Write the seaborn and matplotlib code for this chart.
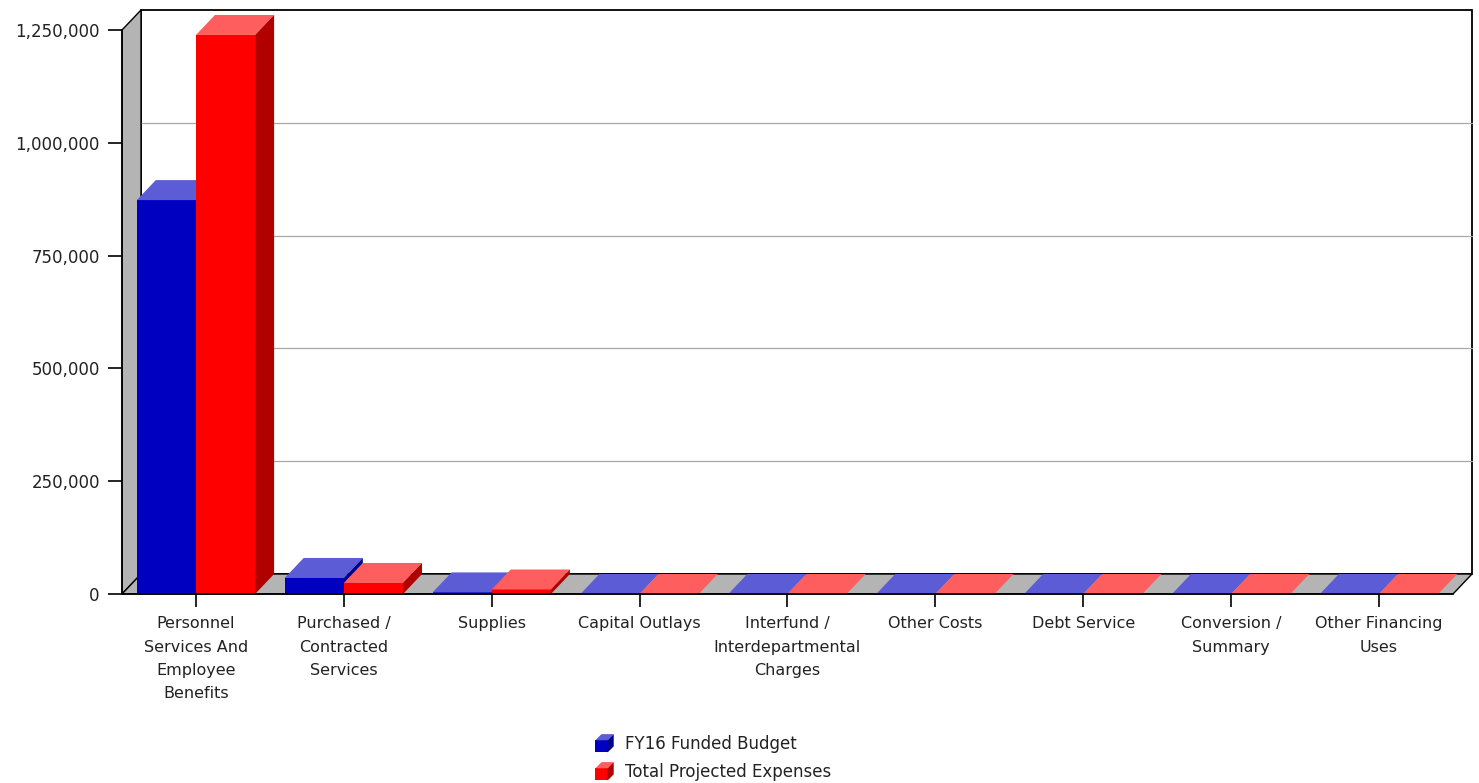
import numpy as np
import pandas as pd
import matplotlib
matplotlib.use("Agg")
import matplotlib.pyplot as plt
import seaborn as sns
from matplotlib.patches import Polygon, Rectangle
from matplotlib.legend_handler import HandlerBase
from matplotlib.ticker import FuncFormatter

# ---- data -------------------------------------------------------------
categories = [
    "Personnel\nServices And\nEmployee\nBenefits",
    "Purchased /\nContracted\nServices",
    "Supplies",
    "Capital Outlays",
    "Interfund /\nInterdepartmental\nCharges",
    "Other Costs",
    "Debt Service",
    "Conversion /\nSummary",
    "Other Financing\nUses",
]
series_names = ["FY16 Funded Budget", "Total Projected Expenses"]
fy16_budget = [873000, 35500, 3500, 0, 0, 0, 0, 0, 0]
projected_expenses = [1239000, 24500, 10000, 0, 0, 0, 0, 0, 0]
y_ticks = [0, 250000, 500000, 750000, 1000000, 1250000]

# ---- styling ----------------------------------------------------------
FRONT = {"FY16 Funded Budget": "#0000C0", "Total Projected Expenses": "#FF0000"}
TOP = {"FY16 Funded Budget": "#5C5CD6", "Total Projected Expenses": "#FF5E5E"}
SIDE = {"FY16 Funded Budget": "#000090", "Total Projected Expenses": "#B00000"}
WALL = "#B4B4B4"
GRID = "#A8A8A8"
DEPTH_PX = (19, 20)          # oblique depth of the 3D box, in pixels

df = pd.DataFrame({
    "category": categories * 2,
    "series": [series_names[0]] * len(categories) + [series_names[1]] * len(categories),
    "value": fy16_budget + projected_expenses,
})

sns.set_theme(style="ticks")
plt.rcParams["font.family"] = ["DejaVu Sans"]

W, H = 1479, 783
fig = plt.figure(figsize=(W / 100, H / 100), dpi=100)
fig.patch.set_facecolor("white")
ax = fig.add_axes([122 / W, 1 - 594 / H, (1453 - 122) / W, (594 - 30) / H])
ax.patch.set_visible(False)

sns.barplot(data=df, x="category", y="value", hue="series", hue_order=series_names,
            palette=FRONT, saturation=1, width=0.8, errorbar=None,
            linewidth=0, legend=False, ax=ax)

xmin, xmax = -0.5, len(categories) - 0.5
ymin, ymax = 0, y_ticks[-1]
ax.set_xlim(xmin, xmax)
ax.set_ylim(ymin, ymax)

# depth offset expressed in data units
p0 = ax.transData.transform((0, 0))
inv = ax.transData.inverted()
ddx, ddy = inv.transform(p0 + np.array(DEPTH_PX)) - inv.transform(p0)

# ---- box: back wall, left wall, floor --------------------------------
def poly(pts, fc, ec="black", lw=1.0, z=1):
    p = Polygon(pts, closed=True, facecolor=fc, edgecolor=ec, linewidth=lw,
                zorder=z, clip_on=False, joinstyle="miter")
    ax.add_patch(p)
    return p

poly([(xmin + ddx, ddy), (xmax + ddx, ddy), (xmax + ddx, ymax + ddy), (xmin + ddx, ymax + ddy)],
     "white", z=0.5, lw=1.3)
for v in y_ticks[1:-1]:
    ax.plot([xmin + ddx, xmax + ddx], [v + ddy, v + ddy], color=GRID, lw=0.9,
            zorder=0.6, clip_on=False)
poly([(xmin, 0), (xmin + ddx, ddy), (xmin + ddx, ymax + ddy), (xmin, ymax)], WALL, z=1)
poly([(xmin, 0), (xmax, 0), (xmax + ddx, ddy), (xmin + ddx, ddy)], WALL, z=1)

# ---- 3D faces for every bar drawn by seaborn -------------------------
for level, (name, container) in enumerate(zip(series_names, ax.containers)):
    z = 3 + 2 * level
    for bar in container:
        x0 = bar.get_x()
        x1 = x0 + bar.get_width()
        h = bar.get_height()
        bar.set_zorder(z)
        bar.set_clip_on(False)
        poly([(x0, h), (x1, h), (x1 + ddx, h + ddy), (x0 + ddx, h + ddy)],
             TOP[name], ec="none", lw=0, z=z)
        poly([(x1, 0), (x1, h), (x1 + ddx, h + ddy), (x1 + ddx, ddy)],
             SIDE[name], ec="none", lw=0, z=z)

# ---- axes -------------------------------------------------------------
for s in ["top", "right"]:
    ax.spines[s].set_visible(False)
for s in ["left", "bottom"]:
    ax.spines[s].set_color("black")
    ax.spines[s].set_linewidth(1.2)
    ax.spines[s].set_zorder(10)

ax.set_yticks(y_ticks)
ax.yaxis.set_major_formatter(FuncFormatter(lambda v, _: f"{v:,.0f}"))
ax.tick_params(axis="y", left=True, direction="out", length=10, width=1.2,
               color="black", pad=6, labelsize=12, labelcolor="#222222")
ax.tick_params(axis="x", bottom=True, direction="out", length=9, width=1.2,
               color="black", pad=7, labelsize=11.5, labelcolor="#222222")
for t in ax.get_xticklabels():
    t.set_linespacing(1.7)
    t.set_verticalalignment("top")
ax.set_xlabel("")
ax.set_ylabel("")

# ---- legend with small cube glyphs -----------------------------------
class CubeHandler(HandlerBase):
    def __init__(self, front, top, side):
        super().__init__()
        self.front, self.top, self.side = front, top, side

    def create_artists(self, legend, orig_handle, xdescent, ydescent,
                       width, height, fontsize, trans):
        s = 8.8
        d = 4.4
        x0 = -xdescent + 1
        y0 = -ydescent + (height - s - d) / 2
        front = Polygon([(x0, y0), (x0 + s, y0), (x0 + s, y0 + s), (x0, y0 + s)],
                        closed=True, facecolor=self.front, edgecolor="none", transform=trans)
        top = Polygon([(x0, y0 + s), (x0 + s, y0 + s), (x0 + s + d, y0 + s + d), (x0 + d, y0 + s + d)],
                      closed=True, facecolor=self.top, edgecolor="none", transform=trans)
        side = Polygon([(x0 + s, y0), (x0 + s + d, y0 + d), (x0 + s + d, y0 + s + d), (x0 + s, y0 + s)],
                       closed=True, facecolor=self.side, edgecolor="none", transform=trans)
        return [front, top, side]

handles = [Rectangle((0, 0), 1, 1, facecolor=FRONT[n]) for n in series_names]
hmap = {h: CubeHandler(FRONT[n], TOP[n], SIDE[n]) for h, n in zip(handles, series_names)}
fig.legend(handles, series_names, handler_map=hmap, loc="upper left",
           bbox_to_anchor=(594 / W, 1 - 735 / H), frameon=False, fontsize=12,
           handlelength=1.2, handleheight=1.0, handletextpad=0.65, labelspacing=0.6,
           borderpad=0, borderaxespad=0, labelcolor="#222222")

fig.savefig("out.png", dpi=100, facecolor="white")
